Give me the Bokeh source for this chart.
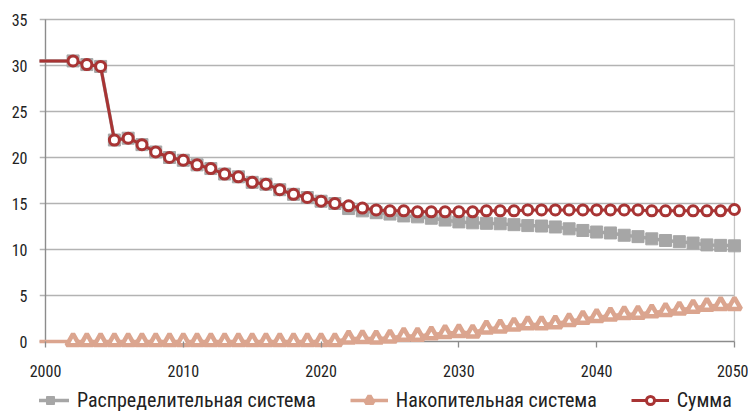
from bokeh.plotting import figure
from bokeh.layouts import column
from bokeh.models import (Range1d, FixedTicker, Legend, LegendItem,
                          ColumnDataSource, CDSView, IndexFilter)
from bokeh.embed import file_html
from bokeh.resources import INLINE

# --- data -------------------------------------------------------------
years = list(range(1999, 2051))

# Сумма
summa = [30.5, 30.5, 30.5, 30.5, 30.1, 29.9, 21.9, 22.1, 21.4, 20.6,
         20.0, 19.7, 19.2, 18.8, 18.2, 17.9, 17.3, 17.1, 16.5, 16.0,
         15.65, 15.25, 15.0, 14.75, 14.5, 14.3, 14.2, 14.2, 14.1, 14.1,
         14.1, 14.1, 14.1, 14.2, 14.2, 14.2, 14.3, 14.3, 14.3, 14.3,
         14.3, 14.3, 14.3, 14.3, 14.3, 14.2, 14.2, 14.2, 14.2, 14.2,
         14.2, 14.35]

# Распределительная система
raspred = [30.5, 30.5, 30.5, 30.5, 30.1, 29.9, 21.9, 22.1, 21.4, 20.6,
           20.0, 19.7, 19.2, 18.8, 18.2, 17.9, 17.3, 17.1, 16.5, 16.0,
           15.65, 15.25, 15.0, 14.45, 14.2, 14.0, 13.85, 13.65, 13.55, 13.4,
           13.2, 13.0, 12.9, 12.85, 12.8, 12.7, 12.6, 12.55, 12.45, 12.25,
           12.07, 11.9, 11.8, 11.55, 11.4, 11.16, 10.98, 10.85, 10.7, 10.5,
           10.45, 10.4]

# Накопительная система
nakop = [0.0, 0.0, 0.0, 0.0, 0.0, 0.0, 0.0, 0.0, 0.0, 0.0,
         0.0, 0.0, 0.0, 0.0, 0.0, 0.0, 0.0, 0.0, 0.0, 0.0,
         0.0, 0.0, 0.0, 0.3, 0.35, 0.3, 0.4, 0.6, 0.6, 0.75,
         0.9, 1.0, 0.95, 1.4, 1.5, 1.7, 1.85, 1.85, 1.95, 2.2,
         2.45, 2.65, 2.8, 2.95, 3.0, 3.15, 3.3, 3.45, 3.65, 3.85,
         3.95, 3.95]

x_ticks = [2000, 2010, 2020, 2030, 2040, 2050]
y_ticks = [0, 5, 10, 15, 20, 25, 30, 35]
first_marker_year = 2002

labels = ["Распределительная система", "Накопительная система", "Сумма"]

# --- styling ------------------------------------------------------------
FONT = "'Liberation Sans Narrow', 'Roboto Condensed', 'DejaVu Sans Condensed', 'Arial Narrow', sans-serif"
C_GRAY = "#a6a6a6"
C_TAN = "#dba58f"
C_RED = "#a83434"
C_GRID = "#b3b3b3"
C_AXIS = "#8c8c8c"

GRAY_LINE = dict(line_color=C_GRAY, line_width=3.5)
GRAY_MARK = dict(marker="square", size=12, fill_color=C_GRAY, line_color=C_GRAY, line_width=1)
TAN_LINE = dict(line_color=C_TAN, line_width=3.5)
TAN_MARK = dict(marker="triangle", size=13, fill_color="white", line_color=C_TAN, line_width=4.5)
RED_LINE = dict(line_color=C_RED, line_width=3)
RED_MARK = dict(marker="circle", size=10, fill_color="white", line_color=C_RED, line_width=3)

src = ColumnDataSource(dict(year=years, summa=summa, raspred=raspred, nakop=nakop))
marker_view = CDSView(filter=IndexFilter(
    [i for i, y in enumerate(years) if y >= first_marker_year]))

x_range = Range1d(1999.565, 2051.02)
y_range = Range1d(-0.652, 35.98)

p = figure(width=748, height=387, x_range=x_range, y_range=y_range,
           output_backend="svg", toolbar_location=None,
           min_border_left=39, min_border_right=0,
           min_border_top=10, min_border_bottom=40)
p.outline_line_color = None
p.grid.visible = False

# horizontal gridlines (also serve as the outside y ticks)
p.segment(x0=x_range.start, x1=x_ticks[-1], y0=y_ticks[1:], y1=y_ticks[1:],
          line_color=C_GRID, line_width=1.3)
# right edge line at the last year
p.segment(x0=x_ticks[-1], x1=x_ticks[-1], y0=y_ticks[0], y1=y_ticks[-1],
          line_color="#c4c4c4", line_width=1.3)
# axis lines
p.segment(x0=x_ticks[0], x1=x_ticks[0], y0=y_ticks[0], y1=y_ticks[-1],
          line_color=C_AXIS, line_width=1.4)
p.segment(x0=x_range.start, x1=x_ticks[-1], y0=y_ticks[0], y1=y_ticks[0],
          line_color=C_AXIS, line_width=1.4)

# series
p.line("year", "raspred", source=src, **GRAY_LINE)
p.scatter("year", "raspred", source=src, view=marker_view, **GRAY_MARK)
p.line("year", "nakop", source=src, **TAN_LINE)
p.scatter("year", "nakop", source=src, view=marker_view, **TAN_MARK)
p.line("year", "summa", source=src, **RED_LINE)
p.scatter("year", "summa", source=src, view=marker_view, **RED_MARK)

# axes
p.xaxis.ticker = FixedTicker(ticks=x_ticks)
p.xaxis.axis_line_color = None
p.xaxis.major_tick_in = 6
p.xaxis.major_tick_out = 0
p.xaxis.major_tick_line_color = C_AXIS
p.xaxis.major_tick_line_width = 1.3
p.xaxis.minor_tick_line_color = None
p.xaxis.major_label_standoff = 17

p.yaxis.ticker = FixedTicker(ticks=y_ticks)
p.yaxis.axis_line_color = None
p.yaxis.major_tick_in = 0
p.yaxis.major_tick_out = 0
p.yaxis.minor_tick_line_color = None
p.yaxis.major_label_standoff = 12

for ax in (p.xaxis, p.yaxis):
    ax.major_label_text_font = FONT
    ax.major_label_text_font_size = "16px"
    ax.major_label_text_color = "#222222"

# --- legend strip under the chart ------------------------------------
# the strip's ranges lie outside the data, so only the legend shows
lg = figure(width=748, height=26, x_range=Range1d(0, 1), y_range=Range1d(0, 1),
            x_axis_type=None, y_axis_type=None,
            output_backend="svg", toolbar_location=None, min_border=0)
lg.grid.visible = False
lg.outline_line_color = None

g1 = [lg.line("year", "raspred", source=src, **GRAY_LINE),
      lg.scatter("year", "raspred", source=src, view=marker_view, **GRAY_MARK)]
g2 = [lg.line("year", "nakop", source=src, **TAN_LINE),
      lg.scatter("year", "nakop", source=src, view=marker_view, **TAN_MARK)]
g3 = [lg.line("year", "summa", source=src, **RED_LINE),
      lg.scatter("year", "summa", source=src, view=marker_view, **RED_MARK)]

legend = Legend(items=[
    LegendItem(label=labels[0], renderers=g1),
    LegendItem(label=labels[1], renderers=g2),
    LegendItem(label=labels[2], renderers=g3),
], orientation="horizontal", location=(-8, 1),
    border_line_color=None, background_fill_alpha=0,
    label_text_font=FONT, label_text_font_size="20px", label_text_color="#222222",
    glyph_width=38, glyph_height=20, label_height=20, label_standoff=8, spacing=34,
    padding=0, margin=0)
lg.add_layout(legend)

open("out.html", "w").write(file_html(column(p, lg, spacing=0), INLINE))
